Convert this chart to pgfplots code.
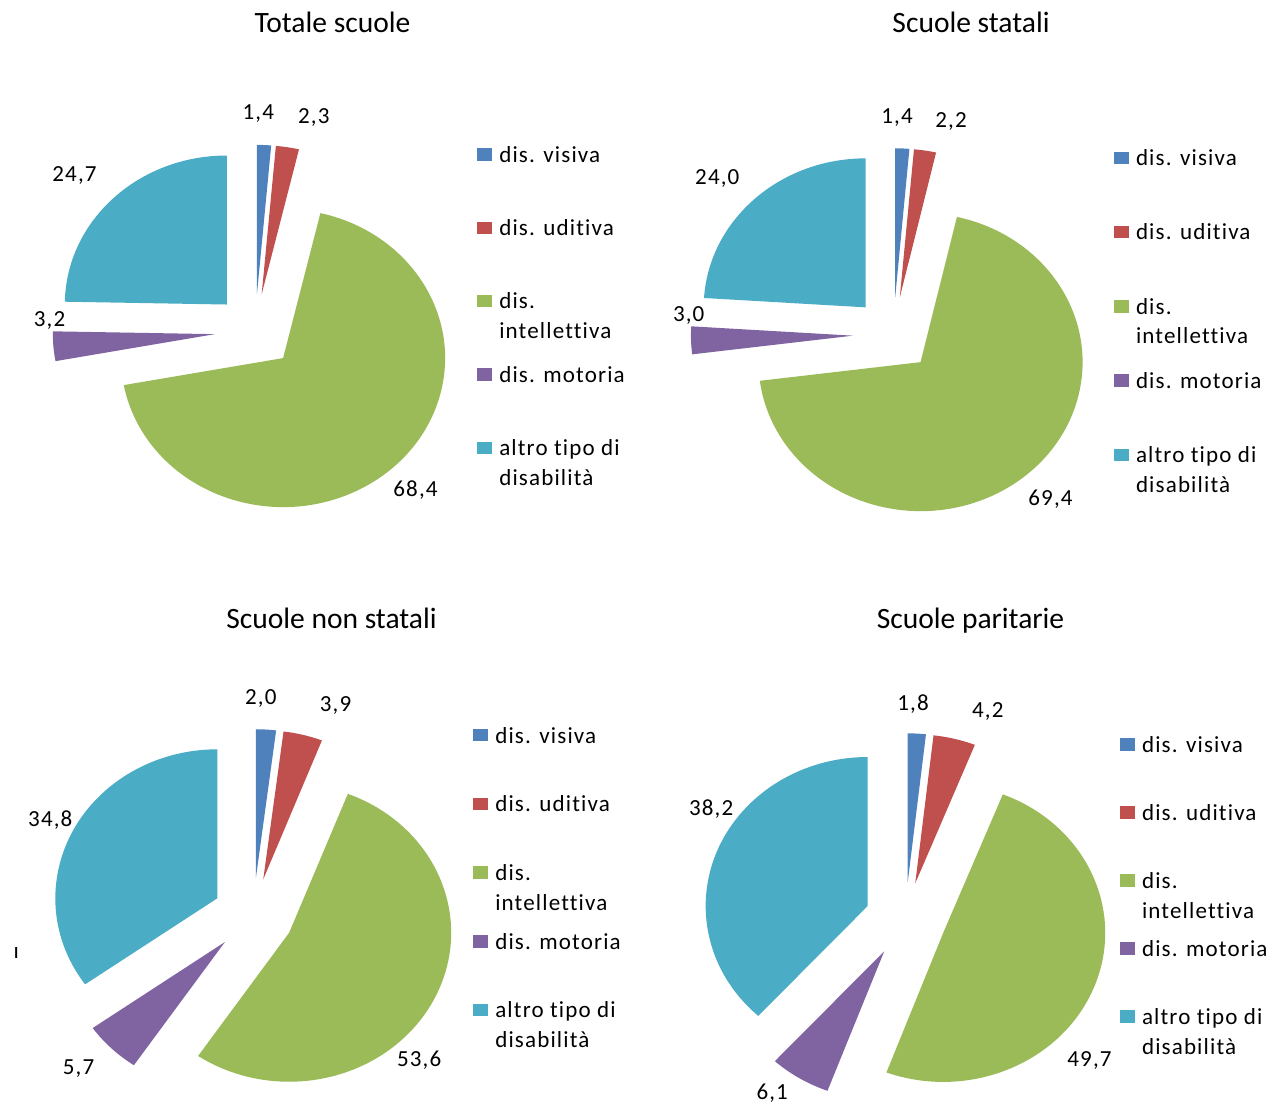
\documentclass[border=0pt]{standalone}
\usepackage{fontspec}
\setmainfont{Carlito}[Ligatures=NoCommon]
\newfontfamily\spaced{Carlito}[LetterSpace=5, Ligatures=NoCommon]
\usepackage{pgfplots}
\usepackage{pgfplotstable}
\pgfplotsset{compat=1.18}

\definecolor{slicecolor0}{HTML}{4F81BD}
\definecolor{slicecolor1}{HTML}{C0504D}
\definecolor{slicecolor2}{HTML}{9BBB59}
\definecolor{slicecolor3}{HTML}{8064A2}
\definecolor{slicecolor4}{HTML}{4BACC6}

\newcommand\labfont{\spaced\fontsize{13.1pt}{16.9pt}\selectfont}
\newcommand\titfont{\fontsize{16.8pt}{20pt}\selectfont}

% share (%) of each kind of disability, label position in px (y down)
\pgfplotstableread{
value lx ly
1.4  258.3 119.0
2.3  313.8 123.7
68.4 415.5 496.7
3.2  49.5  326.7
24.7 74.5  181.7
}\totale
\pgfplotstableread{
value lx ly
1.4  897.0  123.3
2.2  951.0  127.7
69.4 1050.5 505.0
3.0  688.7  321.7
24.0 717.3  184.0
}\statali
\pgfplotstableread{
value lx ly
2.0  260.8 704.0
3.9  335.5 711.7
53.6 419.2 1066.0
5.7  78.5  1074.3
34.8 50.3  826.0
}\nonstatali
\pgfplotstableread{
value lx ly
1.8  913.0  710.0
4.2  987.8  717.7
49.7 1089.5 1066.7
6.1  772.2  1099.5
38.2 711.2  815.0
}\paritarie

\pgfplotsset{
  pie canvas/.style={
    hide axis, scale only axis, clip=false,
    width=25.48cm, height=22.12cm,
    xmin=0, xmax=1274, ymin=0, ymax=1106, y dir=reverse,
    at={(0,0)}, anchor=north west,
    legend cell align=left,
    legend style={draw=none, fill=none, inner sep=0pt, outer sep=0pt,
      anchor=north west, column sep=0.14cm, row sep=0pt,
      font=\labfont,
      cells={anchor=base west},
      nodes={inner sep=0pt, outer sep=0pt, text height=0pt, text depth=#1}},
  },
  sq/.style={legend image code/.code={\fill[##1, draw=none] (0cm,0.032cm) rectangle (0.3cm,0.28cm);}},
}

% exploded pie, clockwise from 12 o'clock; #2,#3 = centre in px
\newcommand\drawpie[3]{%
  \def\angA{90}%
  \pgfplotsforeachungrouped \i in {0,...,4}{%
    \pgfplotstablegetelem{\i}{value}\of{#1}\let\val\pgfplotsretval
    \pgfplotstablegetelem{\i}{lx}\of{#1}\let\labx\pgfplotsretval
    \pgfplotstablegetelem{\i}{ly}\of{#1}\let\laby\pgfplotsretval
    \pgfmathsetmacro\angB{\angA-3.6*\val}%
    \pgfmathsetmacro\angM{(\angA+\angB)/2}%
    \pgfmathsetmacro\tipx{#2+40.5*cos(\angM)}%
    \pgfmathsetmacro\tipy{#3-37.25*sin(\angM)}%
    \pgfmathsetmacro\rimx{\tipx+162*cos(\angA)}%
    \pgfmathsetmacro\rimy{\tipy-149*sin(\angA)}%
    \edef\slice{%
      \noexpand\fill[slicecolor\i] (axis cs:\tipx,\tipy) -- (axis cs:\rimx,\rimy)
        arc[start angle=\angA, end angle=\angB, x radius=3.24cm, y radius=2.98cm] -- cycle;
      \noexpand\node[anchor=base, font=\noexpand\labfont] at (axis cs:\labx,\laby)
        {\noexpand\pgfmathprintnumber[fixed, fixed zerofill, precision=1, use comma, assume math mode=true]{\val}};%
    }%
    \slice
    \let\angA\angB
  }%
}

\newcommand\pielegend{%
  \addlegendimage{sq, fill=slicecolor0}\addlegendentry{dis. visiva}
  \addlegendimage{sq, fill=slicecolor1}\addlegendentry{dis. uditiva}
  \addlegendimage{sq, fill=slicecolor2}\addlegendentry{\parbox[t]{3.5cm}{\raggedright dis.\\intellettiva}}
  \addlegendimage{sq, fill=slicecolor3}\addlegendentry{dis. motoria}
  \addlegendimage{sq, fill=slicecolor4}\addlegendentry{\parbox[t]{3.5cm}{\raggedright altro tipo di\\disabilità}}
}

\begin{document}
\begin{tikzpicture}
\useasboundingbox (0,0) rectangle (25.48cm,-22.12cm);

\begin{axis}[pie canvas=1.186cm, legend style={at={(0.37465,0.86591)}}]
  \pielegend
  \drawpie{\totale}{255.2}{331.1}
  \node[font=\titfont, anchor=base] at (axis cs:332.5,32.7) {Totale scuole};
\end{axis}

\begin{axis}[pie canvas=1.204cm, legend style={at={(0.87441,0.86284)}}]
  \pielegend
  \drawpie{\statali}{893.4}{334.5}
  \node[font=\titfont, anchor=base] at (axis cs:971,32.7) {Scuole statali};
\end{axis}

\begin{axis}[pie canvas=1.094cm, legend style={at={(0.37151,0.34087)}}]
  \pielegend
  \drawpie{\nonstatali}{253.3}{915.4}
  \node[font=\titfont, anchor=base] at (axis cs:331.5,628) {Scuole non statali};
  \node[font=\labfont, anchor=base] at (axis cs:16.2,958.3) {ı};
\end{axis}

\begin{axis}[pie canvas=1.08cm, legend style={at={(0.87912,0.33246)}}]
  \pielegend
  \drawpie{\paritarie}{905.4}{919.5}
  \node[font=\titfont, anchor=base] at (axis cs:970.5,628) {Scuole paritarie};
\end{axis}
\end{tikzpicture}
\end{document}
